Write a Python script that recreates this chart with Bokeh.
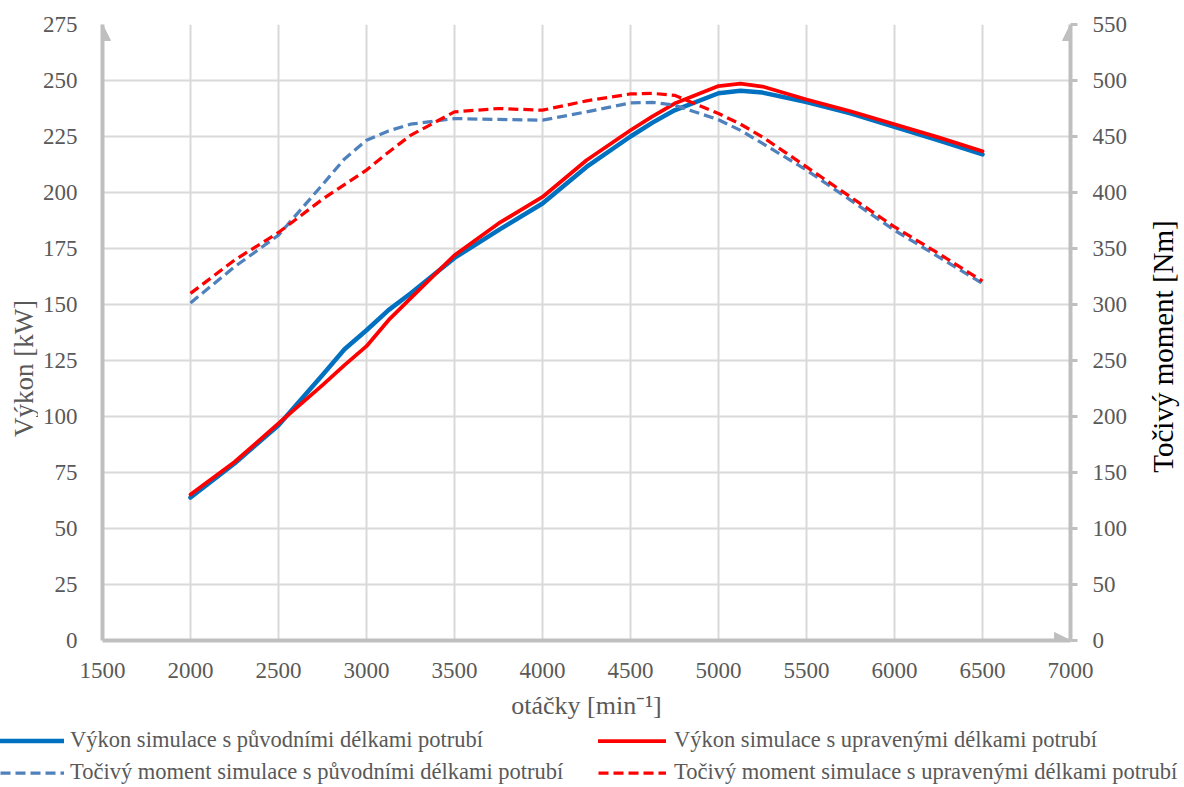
import math
from bokeh.plotting import figure
from bokeh.layouts import column, row
from bokeh.models import (Range1d, LinearAxis, FixedTicker, Legend, LegendItem,
                          Arrow, NormalHead, Label)
from bokeh.embed import file_html
from bokeh.resources import INLINE

# ---- data ----
rpm = [2000, 2250, 2500, 2750, 2875, 3000, 3125, 3250, 3500, 3750, 4000, 4250,
       4500, 4625, 4750, 5000, 5125, 5250, 5500, 5750, 6000, 6250, 6500]

power_orig = [63.8, 79.0, 96.1, 118.5, 130.0, 138.5, 147.5, 154.9, 170.8, 183.2, 195.1, 211.4,
              225.0, 231.2, 236.7, 244.3, 245.4, 244.6, 240.4, 235.3, 229.3, 223.3, 217.0]
power_mod = [65.2, 79.7, 96.9, 114.0, 122.9, 131.4, 143.0, 152.7, 172.0, 186.2, 198.0, 214.4,
             227.8, 234.0, 239.7, 247.5, 248.6, 247.3, 241.5, 236.3, 230.5, 224.6, 218.4]
torque_orig = [301.4, 333.6, 361.9, 407.0, 430.0, 446.7, 455.0, 461.0, 466.0, 465.2, 464.6, 472.0,
               480.0, 480.5, 478.0, 465.0, 455.5, 443.8, 420.0, 393.2, 366.3, 342.6, 318.8]
torque_mod = [309.9, 339.6, 364.3, 394.0, 407.0, 420.0, 436.0, 451.0, 472.0, 475.0, 473.5, 481.8,
              488.0, 488.5, 486.8, 470.5, 461.0, 449.6, 422.9, 396.0, 369.3, 345.6, 320.8]

x_ticks = list(range(1500, 7001, 500))
power_ticks = list(range(0, 276, 25))
torque_ticks = list(range(0, 551, 50))

labels = [
    "Výkon simulace s původními délkami potrubí",
    "Výkon simulace s upravenými délkami potrubí",
    "Točivý moment simulace s původními délkami potrubí",
    "Točivý moment simulace s upravenými délkami potrubí",
]
left_title = "Výkon [kW]"
right_title = "Točivý moment [Nm]"
x_title = "otáčky [min⁻¹]"

FONT = "Liberation Serif"
GREY_TXT = "#595959"
AXIS_C = "#bfbfbf"
GRID_C = "#d9d9d9"
BLUE = "#0070c0"
BLUE_D = "#4f81bd"
RED = "#ff0000"

styles = [
    dict(line_color=BLUE, line_width=4.5, line_join="round", line_cap="round"),
    dict(line_color=RED, line_width=3.75, line_join="round", line_cap="round"),
    dict(line_color=BLUE_D, line_width=3.25, line_dash="10 5", line_join="round"),
    dict(line_color=RED, line_width=3.25, line_dash="10 5", line_join="round"),
]
series = [power_orig, power_mod, torque_orig, torque_mod]

TOP_H = 727
FRAME_TOP = 24
FRAME_BOTTOM = 640
LEFT_W = 38
RIGHT_W = 44
MAIN_W = 1184 - LEFT_W - RIGHT_W

p = figure(width=MAIN_W, height=TOP_H,
           x_range=Range1d(x_ticks[0], x_ticks[-1]),
           y_range=Range1d(power_ticks[0], power_ticks[-1]),
           output_backend="svg", toolbar_location=None,
           min_border_left=102 - LEFT_W, min_border_right=MAIN_W + LEFT_W - 1070,
           min_border_top=FRAME_TOP, min_border_bottom=TOP_H - FRAME_BOTTOM)
p.extra_y_ranges = {"torque": Range1d(torque_ticks[0], torque_ticks[-1])}
p.outline_line_color = None

p.xgrid.ticker = FixedTicker(ticks=x_ticks)
p.ygrid.ticker = FixedTicker(ticks=power_ticks)
for g in (p.xgrid, p.ygrid):
    g.grid_line_color = GRID_C
    g.grid_line_width = 2

ya = p.yaxis[0]
ya.ticker = FixedTicker(ticks=power_ticks)
xa = p.xaxis[0]
xa.ticker = FixedTicker(ticks=x_ticks)
xa.axis_label = x_title

ra = LinearAxis(y_range_name="torque", ticker=FixedTicker(ticks=torque_ticks))
p.add_layout(ra, "right")

for ax in (xa, ya, ra):
    ax.axis_line_color = AXIS_C
    ax.axis_line_width = 4
    ax.major_label_text_font = FONT
    ax.major_label_text_font_size = "23px"
    ax.major_label_text_color = GREY_TXT
    ax.axis_label_text_font = FONT
    ax.axis_label_text_font_style = "normal"
    ax.minor_tick_line_color = None

xa.major_tick_line_color = None
ya.major_tick_line_color = None
xa.major_label_standoff = 16
ya.major_label_standoff = 19
xa.axis_label_standoff = 10
xa.axis_label_text_font_size = "26px"
xa.axis_label_text_color = GREY_TXT

ra.major_tick_line_color = AXIS_C
ra.major_tick_line_width = 3
ra.major_tick_out = 7
ra.major_tick_in = 0
ra.major_label_standoff = 15

# arrow heads on axis ends
for xs, ys, xe, ye in [(x_ticks[0], power_ticks[-2], x_ticks[0], power_ticks[-1]),
                       (x_ticks[-2], 0, x_ticks[-1], 0),
                       (x_ticks[-1], power_ticks[-2], x_ticks[-1], power_ticks[-1])]:
    p.add_layout(Arrow(end=NormalHead(size=16, fill_color=AXIS_C, line_color=AXIS_C, line_width=1),
                       x_start=xs, y_start=ys, x_end=xe, y_end=ye,
                       line_alpha=0, line_width=1))

# series
p.line(rpm, power_orig, **styles[0])
p.line(rpm, power_mod, **styles[1])
p.line(rpm, torque_orig, y_range_name="torque", **styles[2])
p.line(rpm, torque_mod, y_range_name="torque", **styles[3])


def blank(width, height):
    f = figure(width=width, height=height, x_range=Range1d(0, 1), y_range=Range1d(0, 1),
               output_backend="svg", toolbar_location=None,
               x_axis_type=None, y_axis_type=None, min_border=0)
    f.outline_line_color = None
    f.xgrid.visible = False
    f.ygrid.visible = False
    return f


# axis titles placed in narrow side panels (their frames align with the main frame)
pl = blank(LEFT_W, TOP_H)
pl.add_layout(Label(x=23, y=FRAME_BOTTOM - 368, x_units="screen", y_units="screen",
                    text=left_title, angle=math.pi / 2, text_align="center",
                    text_baseline="middle", text_font=FONT, text_font_size="27px",
                    text_color=GREY_TXT))
pr = blank(RIGHT_W, TOP_H)
pr.add_layout(Label(x=1162 - (LEFT_W + MAIN_W), y=FRAME_BOTTOM - 346, x_units="screen",
                    y_units="screen", text=right_title, angle=math.pi / 2,
                    text_align="center", text_baseline="middle", text_font=FONT,
                    text_font_size="29px", text_color="#000000"))


def legend_fig(width, idx, gw, standoff):
    f = blank(width, 787 - TOP_H)
    items = []
    for i in idx:
        # same series, lying outside this panel's ranges: only its legend sample shows
        r = f.line(rpm, series[i], **styles[i])
        items.append(LegendItem(label=labels[i], renderers=[r]))
    lg = Legend(items=items, location="top_left", orientation="vertical",
                glyph_width=gw, glyph_height=23, label_height=23, spacing=6,
                label_standoff=standoff, padding=0, margin=0,
                border_line_color=None, background_fill_alpha=0,
                label_text_font=FONT, label_text_font_size="22.5px",
                label_text_color=GREY_TXT)
    f.add_layout(lg, "center")
    return f


pa = legend_fig(598, [0, 2], 64, 6)
pb = legend_fig(1184 - 598, [1, 3], 68, 8)

layout = column(row(pl, p, pr, spacing=0), row(pa, pb, spacing=0), spacing=0)
open("out.html", "w").write(file_html(layout, INLINE))
